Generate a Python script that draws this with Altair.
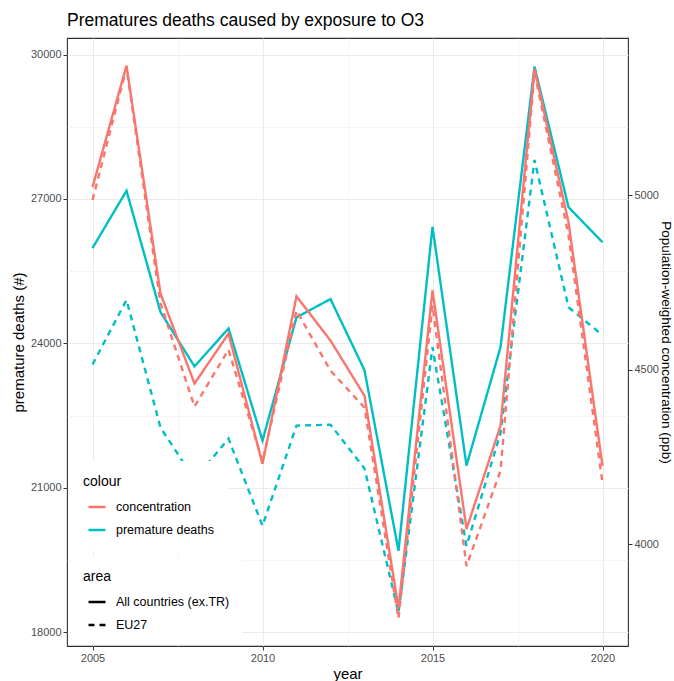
import altair as alt
import pandas as pd

# ---- data -------------------------------------------------------------
years = list(range(2005, 2021))

deaths_all = [25980, 27170, 24650, 23520, 24310, 21980, 24540, 24920,
              23440, 19690, 26420, 21460, 23920, 29750, 26830, 26100]
deaths_eu27 = [23560, 24900, 22250, 21170, 22020, 20210, 22290, 22310,
               21400, 18400, 23920, 19790, 22130, 27810, 24750, 24170]

conc_all = [5023, 5371, 4718, 4460, 4603, 4230, 4710, 4583,
            4425, 3816, 4727, 4043, 4339, 5362, 4922, 4224]
conc_eu27 = [4986, 5365, 4690, 4394, 4557, 4236, 4669, 4497,
             4391, 3787, 4684, 3937, 4210, 5351, 4885, 4175]

areas = ["All countries (ex.TR)", "EU27"]
colours = ["concentration", "premature deaths"]

# secondary axis: deaths = DEATHS_AT_REF + DEATHS_PER_PPB * (ppb - PPB_REF)
PPB_REF = 5000
DEATHS_AT_REF = 27080
DEATHS_PER_PPB = 7.25


def to_deaths(c):
    return DEATHS_AT_REF + DEATHS_PER_PPB * (c - PPB_REF)


def to_ppb(d):
    return PPB_REF + (d - DEATHS_AT_REF) / DEATHS_PER_PPB


deaths_df = pd.DataFrame({
    "year": years * 2,
    "value": deaths_all + deaths_eu27,
    "area": [areas[0]] * 16 + [areas[1]] * 16,
    "colour": colours[1],
})
conc_df = pd.DataFrame({
    "year": years * 2,
    "value": conc_all + conc_eu27,
    "area": [areas[0]] * 16 + [areas[1]] * 16,
    "colour": colours[0],
})

# shared y range in deaths units with 5% expansion on both sides
all_vals = deaths_all + deaths_eu27 + [to_deaths(c) for c in conc_all + conc_eu27]
lo, hi = min(all_vals), max(all_vals)
pad = 0.05 * (hi - lo)
d_lo, d_hi = lo - pad, hi + pad
x_lo, x_hi = years[0] - 0.05 * (years[-1] - years[0]), years[-1] + 0.05 * (years[-1] - years[0])

FONT = "Liberation Sans"

x_enc = alt.X(
    "year:Q",
    scale=alt.Scale(domain=[x_lo, x_hi], nice=False, zero=False),
    axis=alt.Axis(
        title="year",
        values=[2005, 2007.5, 2010, 2012.5, 2015, 2017.5, 2020],
        format="d",
        labelExpr="datum.value % 5 === 0 ? datum.label : ''",
        gridWidth={"condition": {"test": "datum.value % 5 === 0", "value": 1.0}, "value": 0.5},
        tickOpacity={"condition": {"test": "datum.value % 5 === 0", "value": 1}, "value": 0},
        titlePadding=3,
    ),
)

color_enc = alt.Color(
    "colour:N",
    scale=alt.Scale(domain=colours, range=["#F8766D", "#00BFC4"]),
    legend=alt.Legend(title="colour", orient="none", legendX=2, legendY=423,
                      zindex=1),
)

dash_enc = alt.StrokeDash(
    "area:N",
    scale=alt.Scale(domain=areas, range=[[1, 0], [6, 5]]),
    legend=alt.Legend(title="area", orient="none", legendX=4, legendY=520,
                      padding=12, symbolStrokeColor="black", zindex=1),
)

deaths_layer = alt.Chart(deaths_df).mark_line(strokeWidth=2.4).encode(
    x=x_enc,
    y=alt.Y(
        "value:Q",
        scale=alt.Scale(domain=[d_lo, d_hi], nice=False, zero=False),
        axis=alt.Axis(
            title="premature deaths (#)",
            values=[18000, 19500, 21000, 22500, 24000, 25500, 27000, 28500, 30000],
            format="d",
            labelExpr="datum.value % 3000 === 0 ? datum.label : ''",
            gridWidth={"condition": {"test": "datum.value % 3000 === 0", "value": 1.0}, "value": 0.5},
            tickOpacity={"condition": {"test": "datum.value % 3000 === 0", "value": 1}, "value": 0},
            titlePadding=4,
        ),
    ),
    color=color_enc,
    strokeDash=dash_enc,
)

conc_layer = alt.Chart(conc_df).mark_line(strokeWidth=2.4).encode(
    x=x_enc,
    y=alt.Y(
        "value:Q",
        scale=alt.Scale(domain=[to_ppb(d_lo), to_ppb(d_hi)], nice=False, zero=False),
        axis=alt.Axis(
            title="Population-weighted concentration (ppb)",
            orient="right",
            values=[4000, 4500, 5000],
            format="d",
            grid=False,
            titlePadding=0,
            titleFontSize=13.5,
        ),
    ),
    color=color_enc,
    strokeDash=dash_enc,
)

chart = (
    alt.layer(deaths_layer, conc_layer)
    .resolve_scale(y="independent")
    .properties(
        width=561,
        height=608,
        title=alt.Title(
            "Prematures deaths caused by exposure to O3",
            anchor="start",
            frame="group",
            fontSize=17.5,
            fontWeight="normal",
            font=FONT,
            color="black",
            offset=9,
        ),
        autosize=alt.AutoSizeParams(type="none"),
        padding={"left": 67, "top": 38, "right": 46, "bottom": 35},
        background="white",
    )
    .configure_view(stroke="#333333", strokeWidth=1.1)
    .configure_axis(
        labelFont=FONT,
        labelFontSize=11,
        labelColor="#4D4D4D",
        labelPadding=2,
        titleFont=FONT,
        titleFontSize=15,
        titleFontWeight="normal",
        titleColor="black",
        tickColor="#333333",
        tickSize=4,
        tickWidth=1,
        domain=False,
        gridColor="#EBEBEB",
    )
    .configure_legend(
        titleFont=FONT,
        titleFontSize=14,
        titleFontWeight="normal",
        titleColor="black",
        titlePadding=8,
        labelFont=FONT,
        labelFontSize=12.5,
        labelColor="black",
        labelOffset=9,
        symbolType="stroke",
        symbolSize=289,
        symbolStrokeWidth=2.5,
        symbolOffset=4,
        rowPadding=6,
        padding=14,
        fillColor="white",
    )
)

chart.save("out.html", embed_options={"renderer": "svg", "actions": False})
